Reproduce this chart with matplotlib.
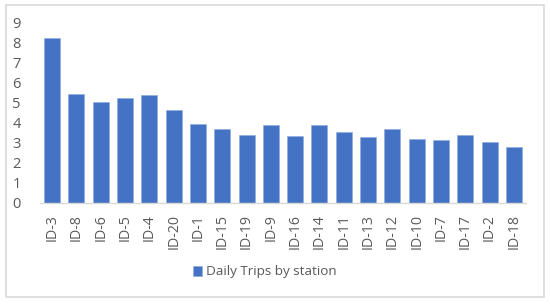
import matplotlib
matplotlib.use("Agg")
import matplotlib.pyplot as plt
from matplotlib.patches import Rectangle

stations = ["ID-3", "ID-8", "ID-6", "ID-5", "ID-4", "ID-20", "ID-1", "ID-15", "ID-19", "ID-9",
            "ID-16", "ID-14", "ID-11", "ID-13", "ID-12", "ID-10", "ID-7", "ID-17", "ID-2", "ID-18"]
daily_trips = [8.27, 5.43, 5.03, 5.27, 5.42, 4.67, 3.97, 3.68, 3.42, 3.90,
               3.35, 3.90, 3.53, 3.32, 3.72, 3.22, 3.13, 3.38, 3.03, 2.82]
y_ticks = list(range(0, 10))

plt.rcParams['font.family'] = ['Open Sans', 'DejaVu Sans']
W, H = 550, 304
fig = plt.figure(figsize=(W / 100, H / 100), dpi=100)
fig.patches.append(Rectangle((6 / W, 1 - 297 / H), 538 / W, 292 / H, transform=fig.transFigure,
                             fill=False, edgecolor="#D9D9D9", linewidth=1.2))
ax = fig.add_axes([40 / W, 1 - 203 / H, 486 / W, 180 / H])
ax.bar(range(len(stations)), daily_trips, width=0.66, color="#4472C4",
       edgecolor="#8FAADC", linewidth=0.4, label="Daily Trips by station")
ax.set_xlim(-0.5, len(stations) - 0.5)
ax.set_ylim(0, 9)
ax.set_yticks(y_ticks)
ax.set_xticks(range(len(stations)))
ax.set_xticklabels(stations, rotation=90, fontsize=10.2, color="#595959")
ax.tick_params(axis="y", labelsize=10.5, colors="#595959", length=0, pad=14)
ax.tick_params(axis="x", length=0, pad=8)
for s in ["top", "right", "left"]:
    ax.spines[s].set_visible(False)
ax.spines["bottom"].set_color("#D9D9D9")
ax.spines["bottom"].set_linewidth(1.0)
leg = fig.legend(loc="center", bbox_to_anchor=(265 / W, 1 - 272 / H), frameon=False,
                 fontsize=9.7, handlelength=0.7, handleheight=0.7, handletextpad=0.3)
for t in leg.get_texts():
    t.set_color("#595959")
fig.savefig("out.png", dpi=100)
